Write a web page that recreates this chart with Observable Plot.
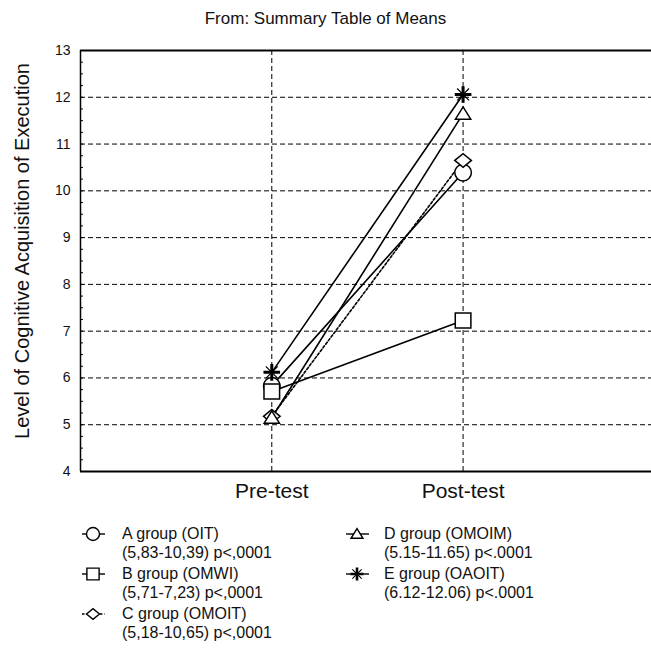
<!DOCTYPE html>
<html><head><meta charset="utf-8">
<script src="https://cdn.jsdelivr.net/npm/d3@7"></script>
<script src="https://cdn.jsdelivr.net/npm/@observablehq/plot@0.6"></script>
<style>
body{margin:0;background:#fff;font-family:"Liberation Sans",Arial,Helvetica,sans-serif;color:#111}
#wrap{position:relative;width:651px;height:650px;overflow:hidden;background:#fff}
#title{position:absolute;left:0;top:9px;width:651px;text-align:center;font-size:17px;line-height:20px}
#chart{position:absolute;left:0;top:35px}
.leg{position:absolute;font-size:16px;line-height:19px;white-space:nowrap}
.legsym{position:absolute;overflow:visible}
</style></head><body>
<div id="wrap"><div id="title">From: Summary Table of Means</div><div id="chart"></div><div id="legend"></div></div>
<script>
// ---- data ----
const categories = ["Pre-test", "Post-test"];
const groups = ["A", "B", "C", "D", "E"];
const groupNames = ["A group (OIT)", "B group (OMWI)", "C group (OMOIT)", "D group (OMOIM)", "E group (OAOIT)"];
const groupStats = ["(5,83-10,39) p<,0001", "(5,71-7,23) p<,0001", "(5,18-10,65) p<,0001", "(5.15-11.65) p<.0001", "(6.12-12.06) p<.0001"];
const preValues = [5.83, 5.71, 5.18, 5.15, 6.12];
const postValues = [10.39, 7.23, 10.65, 11.65, 12.06];
const yTicks = [4, 5, 6, 7, 8, 9, 10, 11, 12, 13];
const yLabel = "Level of Cognitive Acquisition of Execution";

// ---- symbols ----
const rad = s => Math.sqrt(s / Math.PI);
const circleSym = {draw(c, s) { const r = rad(s); c.moveTo(r, 0); c.arc(0, 0, r, 0, 2 * Math.PI); c.closePath(); }};
const squareSym = {draw(c, s) { const r = rad(s); c.rect(-0.94 * r, -0.9 * r, 1.88 * r, 1.8 * r); }};
const diamondSym = {draw(c, s) { const r = rad(s); c.moveTo(-r, 0); c.lineTo(0, -0.82 * r); c.lineTo(r, 0); c.lineTo(0, 0.82 * r); c.closePath(); }};
const triangleSym = {draw(c, s) { const r = rad(s); c.moveTo(0, -0.82 * r); c.lineTo(0.92 * r, 0.66 * r); c.lineTo(-0.92 * r, 0.66 * r); c.closePath(); }};
const plusSym = {draw(c, s) { const r = rad(s); c.moveTo(-r, 0); c.lineTo(r, 0); c.moveTo(0, -r); c.lineTo(0, r); }};
const timesSym = {draw(c, s) { const r = rad(s) * 0.72; c.moveTo(-r, -r); c.lineTo(r, r); c.moveTo(-r, r); c.lineTo(r, -r); }};
const groupSymbols = [circleSym, squareSym, diamondSym, triangleSym, null];
const groupDash = [null, null, "2.5,2", null, null];

// ---- long table ----
const data = [];
groups.forEach((g, i) => {
  data.push({group: g, x: 1, cat: categories[0], y: preValues[i]});
  data.push({group: g, x: 2, cat: categories[1], y: postValues[i]});
});
const minorTicks = d3.range(4, 13.001, 0.25);

const marks = [
  Plot.gridY(yTicks.slice(1, -1), {stroke: "#000", strokeOpacity: 1, strokeWidth: 1, strokeDasharray: "5,3"}),
  Plot.gridX([1, 2], {stroke: "#000", strokeOpacity: 1, strokeWidth: 1, strokeDasharray: "5,3"}),
  Plot.ruleY(minorTicks, {y: d => d, x1: 0, x2: 0, insetRight: -3, stroke: "#000", strokeWidth: 1}),
  Plot.ruleY([4, 13], {stroke: "#000", strokeWidth: 2}),
  Plot.ruleX([0], {stroke: "#000", strokeWidth: 1.5}),
  Plot.axisY(yTicks, {tickSize: 0, tickPadding: 10, fontSize: 14, label: null}),
  Plot.axisX([1, 2], {tickSize: 0, tickPadding: 12, fontSize: 21, label: null, tickFormat: d => categories[d - 1]}),
  Plot.text([yLabel], {frameAnchor: "left", textAnchor: "middle", rotate: -90, dx: -58, dy: -10, fontSize: 20, text: d => d})
];
groups.forEach((g, i) => {
  marks.push(Plot.line(data.filter(d => d.group === g), {x: "x", y: "y", stroke: "#000", strokeWidth: 1.6, strokeDasharray: groupDash[i] || undefined}));
});
groups.forEach((g, i) => {
  const sub = data.filter(d => d.group === g);
  if (groupSymbols[i]) {
    marks.push(Plot.dot(sub, {x: "x", y: "y", r: 8.3, symbol: groupSymbols[i], fill: "white", stroke: "#000", strokeWidth: 1.5}));
  } else {
    marks.push(Plot.dot(sub, {x: "x", y: "y", r: 8.3, symbol: timesSym, fill: "none", stroke: "#000", strokeWidth: 1.2}));
    marks.push(Plot.dot(sub, {x: "x", y: "y", r: 8.3, symbol: plusSym, fill: "none", stroke: "#000", strokeWidth: 3}));
  }
});

const chart = Plot.plot({
  width: 651, height: 480,
  marginLeft: 80, marginRight: 0, marginTop: 15, marginBottom: 44,
  style: {fontFamily: "'Liberation Sans', Arial, sans-serif", background: "transparent", overflow: "visible", color: "#111"},
  x: {type: "linear", domain: [0, 2.985], axis: null},
  y: {domain: [4, 13], axis: null},
  marks
});
document.getElementById("chart").appendChild(chart);

// ---- legend ----
function symPath(sym, r) { const p = d3.path(); sym.draw(p, Math.PI * r * r); return p.toString(); }
const legend = document.getElementById("legend");
const legPos = [
  {sx: 93, tx: 122, cy: 534}, {sx: 93, tx: 122, cy: 574}, {sx: 93, tx: 122, cy: 614},
  {sx: 357, tx: 384, cy: 534}, {sx: 357, tx: 384, cy: 574}
];
groups.forEach((g, i) => {
  const p = legPos[i];
  const ns = "http://www.w3.org/2000/svg";
  const svg = document.createElementNS(ns, "svg");
  svg.setAttribute("class", "legsym");
  svg.setAttribute("width", 30); svg.setAttribute("height", 20);
  svg.style.left = (p.sx - 15) + "px"; svg.style.top = (p.cy - 10) + "px";
  const gg = document.createElementNS(ns, "g");
  gg.setAttribute("transform", "translate(15,10)");
  const ln = document.createElementNS(ns, "path");
  ln.setAttribute("d", "M-11,0H12");
  ln.setAttribute("stroke", "#000"); ln.setAttribute("stroke-width", 1.4);
  if (groupDash[i]) ln.setAttribute("stroke-dasharray", "2.5,2");
  gg.appendChild(ln);
  const parts = groupSymbols[i] ? [[groupSymbols[i], 1.4, "white"]] : [[timesSym, 1.1, "none"], [plusSym, 2.6, "none"]];
  parts.forEach(([sym, sw, fill]) => {
    const sp = document.createElementNS(ns, "path");
    sp.setAttribute("d", symPath(sym, 6.5));
    sp.setAttribute("fill", fill); sp.setAttribute("stroke", "#000"); sp.setAttribute("stroke-width", sw);
    gg.appendChild(sp);
  });
  svg.appendChild(gg);
  legend.appendChild(svg);
  const t1 = document.createElement("div");
  t1.className = "leg"; t1.textContent = groupNames[i];
  t1.style.left = p.tx + "px"; t1.style.top = (p.cy - 10) + "px";
  legend.appendChild(t1);
  const t2 = document.createElement("div");
  t2.className = "leg"; t2.textContent = groupStats[i];
  t2.style.left = p.tx + "px"; t2.style.top = (p.cy + 9) + "px";
  legend.appendChild(t2);
});
</script>
</body></html>
